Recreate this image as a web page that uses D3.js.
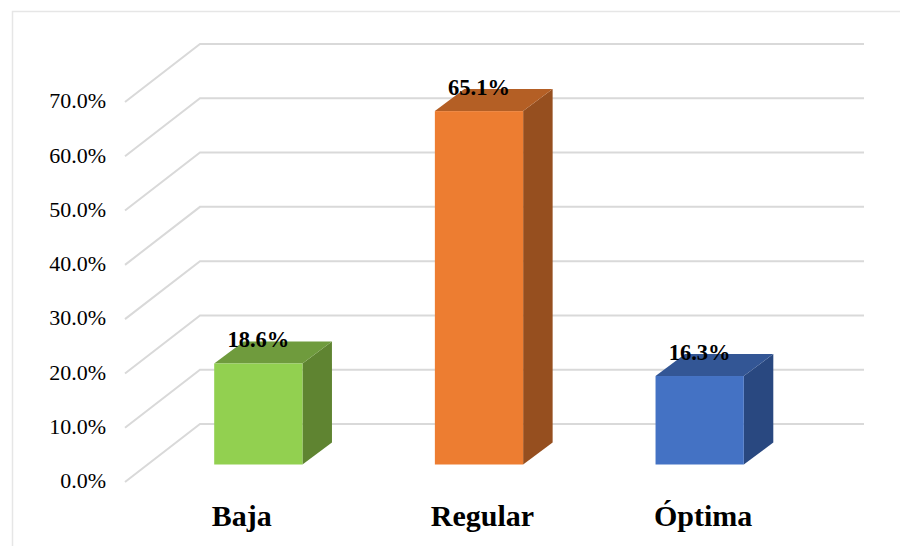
<!DOCTYPE html>
<html>
<head>
<meta charset="utf-8">
<script src="https://cdn.jsdelivr.net/npm/d3@7"></script>
<style>
  html, body { margin: 0; padding: 0; background: #fff; }
  svg { display: block; }
  text { font-family: "Liberation Serif", serif; fill: #000; }
</style>
</head>
<body>
<div id="svgRoot"></div>
<script>
const categories = ["Baja", "Regular", "Óptima"];
const values = [18.6, 65.1, 16.3];
const tickValues = [0, 10, 20, 30, 40, 50, 60, 70];
const frontColors = ["#92d050", "#ed7d31", "#4472c4"];
const topColors = ["#6f9b3d", "#b45f25", "#335695"];
const sideColors = ["#5f8431", "#964f1f", "#294880"];

const width = 900, height = 546;

const svg = d3.select("#svgRoot").append("svg")
  .attr("width", width)
  .attr("height", height);

// outer frame of the chart area
svg.append("path")
  .attr("d", "M12.5,546V11.5H900")
  .attr("fill", "none")
  .attr("stroke", "#e6e6e6")
  .attr("stroke-width", 1.5);

// the value scale, one for the back wall and one for the front edge of the floor
const yBack = d3.scaleLinear().domain([0, 70]).range([424, 44]);
const yFront = d3.scaleLinear().domain([0, 70]).range([482, 102]);
const yBar = d3.scaleLinear().domain([0, 70]).range([464.5, 84.5]);

const x = d3.scaleBand().domain(categories)
  .range([148, 810])
  .paddingInner(0.6)
  .paddingOuter(0.3);
const frontX = 125, wallX = 200, rightX = 864;
const depthX = 29.5, depthY = 22;

// gridlines
svg.append("g")
  .selectAll("path")
  .data(tickValues)
  .enter()
  .append("path")
  .attr("d", d => `M${frontX},${yFront(d)}L${wallX},${yBack(d)}H${rightX}`)
  .attr("fill", "none")
  .attr("stroke", "#d9d9d9")
  .attr("stroke-width", 2);

// tick labels
svg.append("g")
  .selectAll("text")
  .data(tickValues)
  .enter()
  .append("text")
  .attr("x", 106)
  .attr("y", d => yFront(d) - 1)
  .attr("dy", "0.33em")
  .attr("text-anchor", "end")
  .style("font-size", "22px")
  .text(d => d3.format(".1f")(d) + "%");

// bars
const bars = svg.append("g")
  .selectAll("g")
  .data(categories)
  .enter()
  .append("g");

bars.append("path")
  .attr("fill", (d, i) => sideColors[i])
  .attr("d", (d, i) => {
    const r = x(d) + x.bandwidth();
    return `M${r},${yBar(values[i])}l${depthX},${-depthY}V${yBar(0) - depthY}l${-depthX},${depthY}Z`;
  });

bars.append("path")
  .attr("fill", (d, i) => topColors[i])
  .attr("d", (d, i) => {
    const t = yBar(values[i]);
    return `M${x(d)},${t}l${depthX},${-depthY}h${x.bandwidth()}l${-depthX},${depthY}Z`;
  });

bars.append("rect")
  .attr("fill", (d, i) => frontColors[i])
  .attr("x", d => x(d))
  .attr("y", (d, i) => yBar(values[i]))
  .attr("width", x.bandwidth())
  .attr("height", (d, i) => yBar(0) - yBar(values[i]));

// value labels
bars.append("text")
  .attr("x", d => x(d) + x.bandwidth() / 2)
  .attr("y", (d, i) => yBar(values[i]) - 16.5)
  .attr("text-anchor", "middle")
  .style("font-size", "22.5px")
  .style("font-weight", "bold")
  .text((d, i) => values[i].toFixed(1) + "%");

// category labels, Baja sits further left of its bar in the original
bars.append("text")
  .attr("x", d => x(d) + x.bandwidth() / 2 + (d === "Baja" ? -16.5 : 3.5))
  .attr("y", 526)
  .attr("text-anchor", "middle")
  .style("font-size", "30px")
  .style("font-weight", "bold")
  .text(d => d);
</script>
</body>
</html>
